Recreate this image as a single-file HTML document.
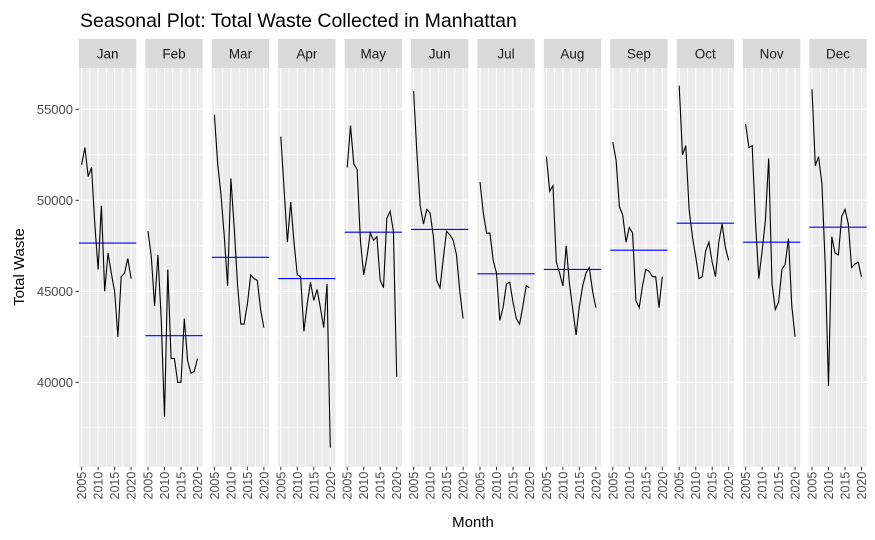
<!DOCTYPE html>
<html><head><meta charset="utf-8">
<style>
body{margin:0;background:#fff;}
svg{display:block;font-family:"Liberation Sans",sans-serif;}
</style></head>
<body>
<svg id="chart" width="875" height="540">
<text x="80" y="27" font-size="19.5" fill="#000">Seasonal Plot: Total Waste Collected in Manhattan</text>
<text transform="translate(24,267) rotate(-90)" text-anchor="middle" font-size="15" fill="#000">Total Waste</text>
<text x="473" y="527" text-anchor="middle" font-size="15" fill="#000">Month</text>
<g id="yaxis"></g>
<g id="panels"></g>
</svg>
<script>
const months = ["Jan","Feb","Mar","Apr","May","Jun","Jul","Aug","Sep","Oct","Nov","Dec"];
const years = [2005,2006,2007,2008,2009,2010,2011,2012,2013,2014,2015,2016,2017,2018,2019,2020];
const janValues = [51950,52900,51300,51800,48700,46200,49700,45000,47100,46000,45000,42500,45800,46000,46800,45700];
const febValues = [48300,46900,44200,47000,43500,38100,46200,41300,41300,40000,40000,43500,41200,40500,40600,41300];
const marValues = [54700,52000,50300,48000,45300,51200,48500,45400,43200,43200,44300,45900,45700,45600,44000,43000];
const aprValues = [53500,50600,47700,49900,47700,45900,45800,42800,44300,45500,44500,45100,44100,43000,45400,36400];
const mayValues = [51800,54100,52000,51700,47800,45900,46900,48200,47800,48000,45600,45200,49000,49400,48300,40300];
const junValues = [56000,52600,49700,48700,49500,49300,48000,45600,45200,46800,48300,48100,47800,47000,45000,43500];
const julValues = [51000,49300,48200,48200,46700,46000,43400,44100,45400,45500,44400,43500,43200,44200,45300,45200];
const augValues = [52400,50500,50800,46600,46000,45300,47500,45400,44000,42600,44200,45300,46000,46300,45000,44100];
const sepValues = [53200,52200,49650,49200,47700,48500,48200,44500,44100,45300,46200,46100,45800,45800,44100,45800];
const octValues = [56300,52500,53000,49500,48000,46900,45700,45800,47200,47700,46600,45800,47700,48700,47400,46700];
const novValues = [54200,52900,53000,48800,45700,47200,48900,52300,45400,44000,44400,46200,46500,47900,44200,42500];
const decValues = [56100,51900,52400,50900,46500,39800,48000,47100,47000,49100,49500,48700,46300,46500,46600,45800];
const monthMeans = [47650,42560,46870,45700,48250,48400,45960,46200,47260,48740,47700,48520];
const yTicks = [40000,45000,50000,55000];
const yMinor = [37500,42500,47500,52500];
const xTicks = [2005,2010,2015,2020];
const xMinor = [2007.5,2012.5,2017.5];

const series = [janValues,febValues,marValues,aprValues,mayValues,junValues,julValues,augValues,sepValues,octValues,novValues,decValues];
const NS="http://www.w3.org/2000/svg";
const plotTop=68, plotBot=466.7, pLeft0=79, pitch=66.4, pW=57.3;
function yScale(v){return 109.3-(v-55000)*0.0182;}
function xScale(i,yr){return pLeft0+i*pitch+2.6+(yr-2005)*3.3;}
function mk(tag,attrs,parent){const e=document.createElementNS(NS,tag);for(const k in attrs)e.setAttribute(k,attrs[k]);parent.appendChild(e);return e;}

const yaxis=document.getElementById('yaxis');
yTicks.forEach(v=>{
  const y=yScale(v);
  const t=mk('line',{x1:75.5,x2:79,y1:y,y2:y,stroke:'#333','stroke-width':1},yaxis);
  
  
  const l=mk('text',{x:73,y:y+4.5,'text-anchor':'end','font-size':'13',fill:'#4d4d4d'},yaxis);
  l.textContent=v;
  
  
});

const panels=document.getElementById('panels');
months.forEach((m,i)=>{
  const left=pLeft0+i*pitch;
  const g=mk('g',{},panels);
  
  
  mk('rect',{x:left,y:plotTop,width:pW,height:plotBot-plotTop,fill:'#ebebeb'},g);
  const strip=mk('rect',{x:left,y:39,width:pW,height:29,fill:'#d9d9d9'},g);
  
  
  const st=mk('text',{x:left+pW/2,y:58.5,'text-anchor':'middle','font-size':'13.5',fill:'#1a1a1a'},g);
  st.textContent=m;
  
  
  yMinor.forEach(v=>mk('line',{x1:left,x2:left+pW,y1:yScale(v),y2:yScale(v),stroke:'#fff','stroke-width':0.6},g));
  xMinor.forEach(yr=>mk('line',{x1:xScale(i,yr),x2:xScale(i,yr),y1:plotTop,y2:plotBot,stroke:'#fff','stroke-width':0.6},g));
  yTicks.forEach(v=>mk('line',{x1:left,x2:left+pW,y1:yScale(v),y2:yScale(v),stroke:'#fff','stroke-width':1.1},g));
  xTicks.forEach(yr=>{
    const x=xScale(i,yr);
    mk('line',{x1:x,x2:x,y1:plotTop,y2:plotBot,stroke:'#fff','stroke-width':1.1},g);
    mk('line',{x1:x,x2:x,y1:plotBot,y2:plotBot+3.5,stroke:'#333','stroke-width':1},g);
    const tl=mk('text',{transform:`translate(${x+4.5},${plotBot+5}) rotate(-90)`,'text-anchor':'end','font-size':'12.5',fill:'#4d4d4d'},g);
    tl.textContent=yr;
    
    
  });
  const my=yScale(monthMeans[i]);
  const ml=mk('line',{x1:left,x2:left+pW,y1:my,y2:my,stroke:'#0000ff','stroke-width':1.1},g);
  
  
  const pts=series[i].map((v,j)=>xScale(i,years[j]).toFixed(1)+','+yScale(v).toFixed(1)).join(' ');
  const pl=mk('polyline',{points:pts,fill:'none',stroke:'#000','stroke-width':1.1},g);
  
  
});
</script>
</body></html>
